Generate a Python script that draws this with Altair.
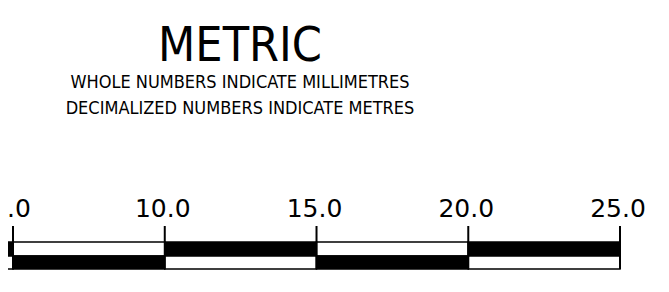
import altair as alt
import pandas as pd

# Scale bar data
seg_start = [0, 5, 10, 15, 20]
seg_end = [5, 10, 15, 20, 25]
top_fill = ["black", "white", "black", "white", "black"]
bottom_fill = ["white", "black", "white", "black", "white"]

tick_values = [5, 10, 15, 20, 25]
tick_labels = ["5.0", "10.0", "15.0", "20.0", "25.0"]

title_text = "METRIC"
subtitle_lines = ["WHOLE NUMBERS INDICATE MILLIMETRES", "DECIMALIZED NUMBERS INDICATE METRES"]

segs = pd.DataFrame({"start": seg_start, "end": seg_end, "top": top_fill, "bottom": bottom_fill})
ticks = pd.DataFrame({"v": tick_values, "label": tick_labels})

W, H = 653, 276
xscale = alt.Scale(domain=[4.835, 26.35], range=[0, W], nice=False, zero=False)
X = lambda f: alt.X(f, type="quantitative", scale=xscale, axis=None)

base = alt.Chart(segs)

top_bar = base.mark_rect(stroke="black", strokeWidth=1.5, clip=True).encode(
    x=X("start"), x2="end",
    y=alt.value(234), y2=alt.value(248),
    fill=alt.Fill("top:N", scale=None),
)
bottom_bar = base.mark_rect(stroke="black", strokeWidth=1.5, clip=True).encode(
    x=X("start"), x2="end",
    y=alt.value(248), y2=alt.value(261),
    fill=alt.Fill("bottom:N", scale=None),
)

tick_rules = alt.Chart(ticks).mark_rule(color="black", strokeWidth=2).encode(
    x=X("v"), y=alt.value(218), y2=alt.value(261)
)
tick_text = alt.Chart(ticks).mark_text(
    font="DejaVu Sans", fontSize=25, baseline="alphabetic", align="center", dx=-2, color="black"
).encode(x=X("v"), y=alt.value(209), text="label:N")

title = alt.Chart(pd.DataFrame({"t": [title_text]})).mark_text(
    font="DejaVu Sans Condensed", fontSize=48, baseline="alphabetic", align="center", color="black"
).encode(x=alt.value(232), y=alt.value(53), text="t:N")

sub1 = alt.Chart(pd.DataFrame({"t": [subtitle_lines[0]]})).mark_text(
    font="DejaVu Sans Condensed", fontSize=18, baseline="alphabetic", align="center", color="black"
).encode(x=alt.value(232), y=alt.value(80), text="t:N")
sub2 = alt.Chart(pd.DataFrame({"t": [subtitle_lines[1]]})).mark_text(
    font="DejaVu Sans Condensed", fontSize=18, baseline="alphabetic", align="center", color="black"
).encode(x=alt.value(232), y=alt.value(106), text="t:N")

chart = alt.layer(top_bar, bottom_bar, tick_rules, tick_text, title, sub1, sub2).properties(
    width=W, height=H, autosize=alt.AutoSizeParams(type="none"), padding=0, background="white"
).configure_view(stroke=None)

chart.save("out.html", embed_options={"renderer": "svg", "actions": False})
